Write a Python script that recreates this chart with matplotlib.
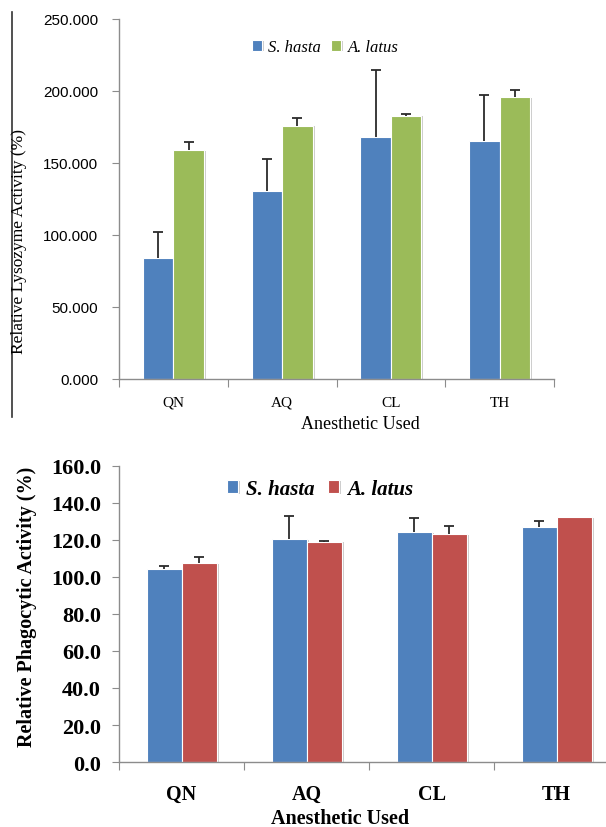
import numpy as np
import matplotlib
matplotlib.use("Agg")
import matplotlib.pyplot as plt
import matplotlib.patheffects as pe
from matplotlib.lines import Line2D

categories = ["QN", "AQ", "CL", "TH"]

lyso_hasta = [83.8, 130.6, 168.3, 165.0]
lyso_hasta_err = [18.3, 22.0, 46.5, 32.0]
lyso_latus = [158.8, 175.9, 182.9, 195.6]
lyso_latus_err = [6.0, 5.0, 1.4, 5.3]

phago_hasta = [104.2, 120.4, 124.3, 127.0]
phago_hasta_err = [1.6, 12.7, 7.7, 3.2]
phago_latus = [107.3, 119.1, 123.2, 132.2]
phago_latus_err = [3.4, 0.4, 4.5, 0.0]

BLUE = "#4F81BD"
GREEN = "#9BBB59"
RED = "#C0504D"
AXIS = "#8C8C8C"
SERIF = "Liberation Serif"
SANS = "Liberation Sans"

shadow = [pe.SimplePatchShadow(offset=(1.5, -0.5), shadow_rgbFace="#9a9a9a", alpha=0.5), pe.Normal()]


def draw_bars(ax, a, a_err, b, b_err, color_b, w=0.28):
    x = np.arange(len(categories))
    bars = []
    for xs, vals, errs, col in [(x - w / 2, a, a_err, BLUE), (x + w / 2, b, b_err, color_b)]:
        bb = ax.bar(xs, vals, w, color=col, edgecolor="white", linewidth=0.8, zorder=2)
        for p in bb:
            p.set_path_effects(shadow)
        vals = np.array(vals)
        errs = np.array(errs)
        m = errs > 0
        # plus-only error bars: line from bar top, cap only at the end
        ax.vlines(xs[m], vals[m], vals[m] + errs[m], color="#2b2b2b", lw=1.3, zorder=3)
        ax.plot(xs[m], vals[m] + errs[m], ls="none", marker="_", ms=7, mew=1.3,
                color="#2b2b2b", zorder=3)
        bars.append(bb)
    return bars


def style_axes(ax, ymax, step, fmt, tickfont, catfont, ypad, xpad):
    ax.set_xlim(-0.5, len(categories) - 0.5)
    ax.set_ylim(0, ymax)
    for s in ["top", "right"]:
        ax.spines[s].set_visible(False)
    for s in ["left", "bottom"]:
        ax.spines[s].set_color(AXIS)
        ax.spines[s].set_linewidth(1.0)
    ax.set_yticks(np.arange(0, ymax + step / 2, step))
    ax.set_yticklabels([fmt % v for v in np.arange(0, ymax + step / 2, step)], **tickfont)
    ax.tick_params(axis="y", direction="out", length=5, color=AXIS, pad=ypad)
    ax.set_xticks(np.arange(-0.5, len(categories)))
    ax.set_xticklabels([])
    ax.tick_params(axis="x", which="major", direction="out", length=6, color=AXIS)
    ax.set_xticks(np.arange(len(categories)), minor=True)
    ax.set_xticklabels(categories, minor=True, **catfont)
    ax.tick_params(axis="x", which="minor", length=0, pad=xpad)


fig = plt.figure(figsize=(6.06, 8.28), dpi=100)

# top: lysozyme
ax1 = fig.add_axes([0.1964, 0.5411, 0.7178, 0.4348])
b1 = draw_bars(ax1, lyso_hasta, lyso_hasta_err, lyso_latus, lyso_latus_err, GREEN)
style_axes(ax1, 250, 50, "%.3f",
           dict(family=SANS, fontsize=11),
           dict(family=SERIF, fontsize=11), ypad=10, xpad=12)
ax1.legend([b1[0], b1[1]], ["S. hasta", "A. latus"], loc="upper center",
           bbox_to_anchor=(0.474, 0.985), ncol=2, frameon=False,
           handlelength=0.6, handleheight=0.6, handletextpad=0.4, columnspacing=0.6,
           prop=dict(family=SERIF, style="italic", size=12))
fig.text(0.031, 0.708, "Relative Lysozyme Activity (%)", rotation=90, ha="center", va="center",
         family=SERIF, fontsize=12.5)
fig.text(0.594, 0.487, "Anesthetic Used", ha="center", va="center", family=SERIF, fontsize=13)
fig.add_artist(Line2D([12 / 606, 12 / 606], [1 - 13 / 828, 1 - 418 / 828], color="#333333", lw=1.2))

# bottom: phagocytic
ax2 = fig.add_axes([0.1964, 0.0785, 0.8251, 0.3575])
b2 = draw_bars(ax2, phago_hasta, phago_hasta_err, phago_latus, phago_latus_err, RED)
style_axes(ax2, 160, 20, "%.1f",
           dict(family=SERIF, fontsize=16, weight="bold"),
           dict(family=SERIF, fontsize=14.5, weight="bold"), ypad=8, xpad=16)
ax2.legend([b2[0], b2[1]], ["S. hasta", "A. latus"], loc="upper center",
           bbox_to_anchor=(0.402, 1.02), ncol=2, frameon=False,
           handlelength=0.55, handleheight=0.6, handletextpad=0.4, columnspacing=0.6,
           prop=dict(family=SERIF, style="italic", weight="bold", size=15))
fig.text(0.045, 0.267, "Relative Phagocytic Activity (%)", rotation=90, ha="center", va="center",
         family=SERIF, fontsize=14.5, weight="bold")
fig.text(0.561, 0.0105, "Anesthetic Used", ha="center", va="center", family=SERIF,
         fontsize=14.5, weight="bold")

fig.savefig("out.png", dpi=100)
